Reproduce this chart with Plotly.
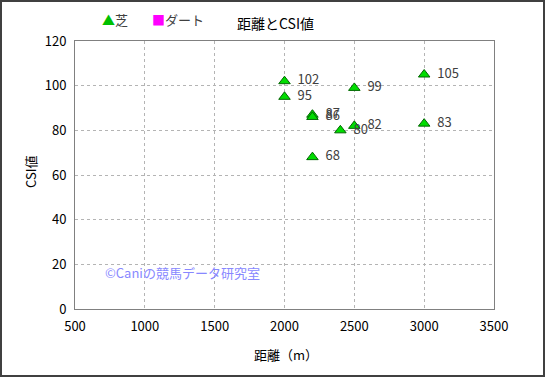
import plotly.graph_objects as go

# Data
turf_distance = [2000, 2000, 2200, 2200, 2200, 2400, 2500, 2500, 3000, 3000]
turf_csi = [102, 95, 87, 86, 68, 80, 99, 82, 105, 83]
dirt_distance = []
dirt_csi = []
x_ticks = [500, 1000, 1500, 2000, 2500, 3000, 3500]
y_ticks = [0, 20, 40, 60, 80, 100, 120]

FONT = "Noto Sans CJK JP, Liberation Sans, sans-serif"
W, H = 545, 377
L, R, T, B = 75, 51, 41, 68
PW, PH = W - L - R, H - T - B


def px(x):
    return (x - L) / PW


def py(y):
    return (H - B - y) / PH


fig = go.Figure()
fig.add_trace(go.Scatter(
    x=turf_distance, y=turf_csi, mode="markers+text", name="芝",
    text=["  " + str(v) for v in turf_csi], textposition="middle right",
    textfont=dict(size=13, color="#404040", family=FONT),
    marker=dict(symbol="triangle-up", size=10, color="#00dd00",
                line=dict(color="#006600", width=1)),
    cliponaxis=False, showlegend=False,
))
fig.add_trace(go.Scatter(
    x=dirt_distance, y=dirt_csi, mode="markers", name="ダート",
    marker=dict(symbol="square", size=8, color="#ff00ff"), showlegend=False,
))

axis_common = dict(
    showgrid=True, gridcolor="#b4b4b4", griddash="dot", gridwidth=1,
    showline=True, linecolor="#808080", linewidth=1, mirror=True,
    zeroline=False, ticks="outside", ticklen=5, tickcolor="rgba(0,0,0,0)",
    tickfont=dict(size=13, color="#000000", family=FONT),
)
fig.update_xaxes(range=[500, 3500], tickvals=x_ticks, **axis_common)
fig.update_yaxes(range=[0, 120], tickvals=y_ticks, **axis_common)

ann = [
    dict(text="距離とCSI値", x=275, y=23, size=14, color="#000000"),
    dict(text="CSI値", x=30, y=172, size=13, color="#000000", angle=-90),
    dict(text="距離（m）", x=286, y=354, size=13, color="#000000"),
    dict(text="©Caniの競馬データ研究室", x=182, y=272, size=13, color="#8888ff"),
    dict(text="<span style='color:#00c000'>▲</span>芝", x=115, y=20, size=13, color="#404040"),
    dict(text="<span style='color:#ff00ff'>■</span>ダート", x=178, y=20, size=13, color="#404040"),
]

fig.update_layout(
    width=W, height=H,
    margin=dict(l=L, r=R, t=T, b=B, autoexpand=False),
    paper_bgcolor="white", plot_bgcolor="white",
    font=dict(family=FONT, size=12, color="#000000"),
    showlegend=False,
    annotations=[dict(text=a["text"], x=px(a["x"]), y=py(a["y"]), xref="paper", yref="paper",
                      xanchor="center", yanchor="middle", showarrow=False,
                      textangle=a.get("angle", 0),
                      font=dict(size=a["size"], color=a["color"], family=FONT)) for a in ann],
    shapes=[dict(type="rect", xref="paper", yref="paper",
                 x0=px(1), y0=py(H - 1), x1=px(W - 1), y1=py(1),
                 line=dict(color="#404040", width=2))],
)

fig.write_html("out.html", config={"displayModeBar": False},
               post_script="document.body.style.margin='0';")
